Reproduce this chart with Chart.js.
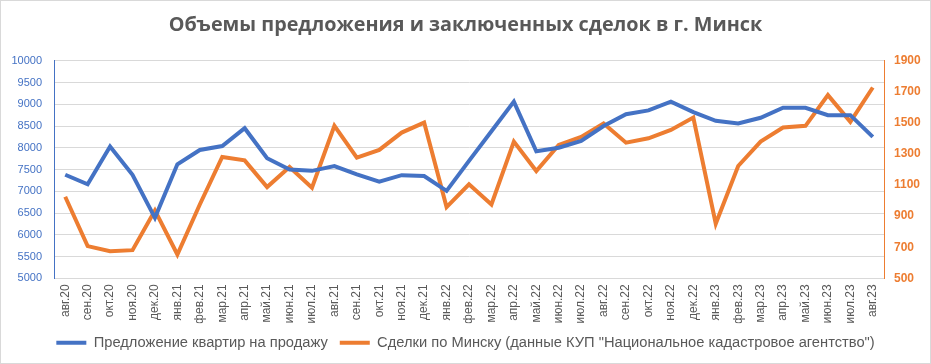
<!DOCTYPE html>
<html>
<head>
<meta charset="utf-8">
<script src="https://cdn.jsdelivr.net/npm/chart.js@4"></script>
<style>
  html, body { margin: 0; padding: 0; background: #fff; }
  #wrap { width: 929px; height: 362px; border: 1px solid #d9d9d9; }
</style>
</head>
<body>
<div id="wrap"><canvas id="chart" width="929" height="362"></canvas></div>
<script>
// Month labels
const months = ['авг.20', 'сен.20', 'окт.20', 'ноя.20', 'дек.20',
    'янв.21', 'фев.21', 'мар.21', 'апр.21', 'май.21', 'июн.21', 'июл.21', 'авг.21', 'сен.21', 'окт.21', 'ноя.21', 'дек.21',
    'янв.22', 'фев.22', 'мар.22', 'апр.22', 'май.22', 'июн.22', 'июл.22', 'авг.22', 'сен.22', 'окт.22', 'ноя.22', 'дек.22',
    'янв.23', 'фев.23', 'мар.23', 'апр.23', 'май.23', 'июн.23', 'июл.23', 'авг.23'];

// Offers for sale (left axis)
const offers = [7380, 7160, 8030, 7380, 6390,
    7620, 7950, 8040, 8450, 7760, 7500, 7470, 7580, 7390, 7220, 7370, 7350,
    7010, 7700, 8380, 9060, 7920, 8000, 8160, 8500, 8770, 8860, 9060, 8820,
    8620, 8560, 8690, 8920, 8920, 8750, 8750, 8250];

// Deals in Minsk (right axis)
const deals = [1025, 707, 674, 681, 937,
    653, 975, 1281, 1259, 1087, 1216, 1083, 1481, 1276, 1326, 1438, 1502,
    958, 1105, 975, 1380, 1190, 1358, 1410, 1496, 1373, 1401, 1455, 1535,
    851, 1223, 1380, 1470, 1481, 1679, 1507, 1728];

const blue = '#4472C4';
const orange = '#ED7D31';
const gray = '#595959';

const ctx = document.getElementById('chart').getContext('2d');
new Chart(ctx, {
    type: 'line',
    data: {
        labels: months,
        datasets: [{
            label: 'Предложение квартир на продажу',
            data: offers,
            borderColor: blue,
            backgroundColor: blue,
            borderWidth: 4,
            pointRadius: 0,
            tension: 0,
            yAxisID: 'y'
        }, {
            label: 'Сделки по Минску (данные КУП "Национальное кадастровое агентство")',
            data: deals,
            borderColor: orange,
            backgroundColor: orange,
            borderWidth: 4,
            pointRadius: 0,
            tension: 0,
            yAxisID: 'y1'
        }]
    },
    options: {
        responsive: false,
        animation: false,
        layout: { padding: { left: 0, right: 0, top: 0, bottom: 3 } },
        plugins: {
            title: {
                display: true,
                text: 'Объемы предложения и заключенных сделок в г. Минск',
                color: gray,
                font: { family: 'Open Sans', size: 19.8, weight: 'bold' },
                padding: { top: 12, bottom: 24 }
            },
            legend: {
                position: 'bottom',
                labels: {
                    color: gray,
                    font: { family: 'Liberation Sans', size: 14.7 },
                    boxWidth: 30,
                    boxHeight: 4,
                    padding: 12,
                    generateLabels: function(chart) {
                        const items = Chart.defaults.plugins.legend.labels.generateLabels(chart);
                        items.forEach(function(it) { it.lineWidth = 0; });
                        return items;
                    }
                }
            },
            tooltip: { enabled: false }
        },
        scales: {
            x: {
                offset: true,
                grid: { display: false, drawTicks: false },
                border: { color: '#d9d9d9' },
                ticks: {
                    color: gray,
                    font: { family: 'Liberation Sans', size: 12 },
                    minRotation: 90,
                    maxRotation: 90,
                    autoSkip: false,
                    padding: 6
                },
                afterFit: function(scale) { scale.height = 45; }
            },
            y: {
                position: 'left',
                min: 5000,
                max: 10000,
                grid: { color: '#d9d9d9', drawTicks: false },
                border: { color: blue },
                ticks: {
                    stepSize: 500,
                    color: blue,
                    font: { family: 'Liberation Sans', size: 11 },
                    padding: 12,
                    callback: function(v) { return String(v); }
                },
                afterFit: function(scale) { scale.width = 53; }
            },
            y1: {
                position: 'right',
                min: 500,
                max: 1900,
                grid: { display: false, drawTicks: false },
                border: { color: orange },
                ticks: {
                    stepSize: 200,
                    color: orange,
                    font: { family: 'Liberation Sans', size: 12, weight: 'bold' },
                    padding: 10,
                    callback: function(v) { return String(v); }
                },
                afterFit: function(scale) { scale.width = 46; }
            }
        }
    }
});
</script>
</body>
</html>
